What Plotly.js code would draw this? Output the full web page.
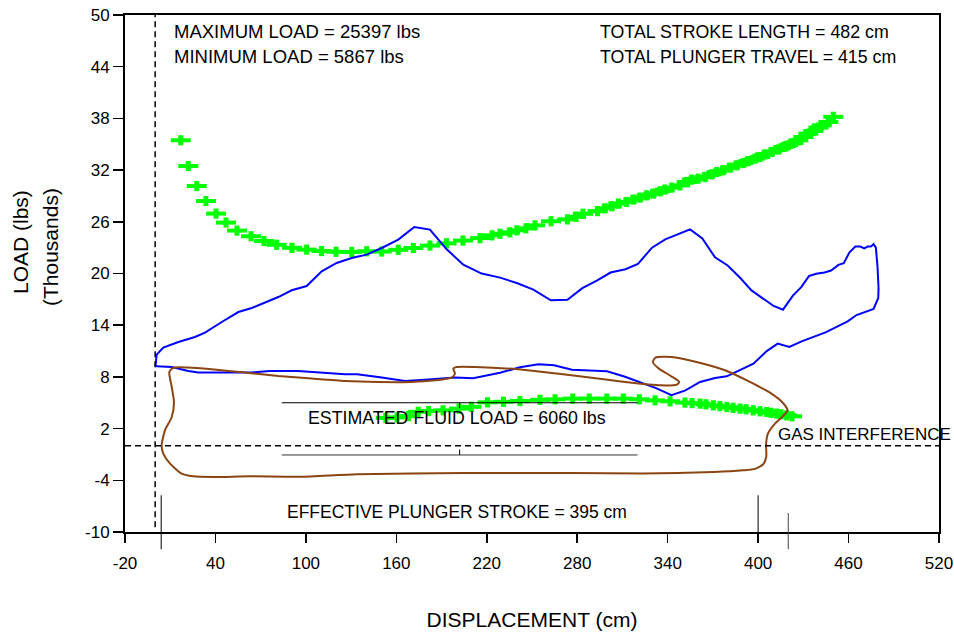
<!DOCTYPE html>
<html>
<head>
<meta charset="utf-8">
<script src="https://cdn.plot.ly/plotly-3.0.1.min.js"></script>
<style>html,body{margin:0;padding:0;background:#fff;}</style>
</head>
<body>
<div id="chart" style="width:954px;height:634px;"></div>
<script>
// ---------------- DATA ----------------
const xRange = [-20, 520];
const yRange = [-10, 50];
const xTicks = [-20, 40, 100, 160, 220, 280, 340, 400, 460, 520];
const yTicks = [-10, -4, 2, 8, 14, 20, 26, 32, 38, 44, 50];

// Surface card (blue)
const surfaceX = [0.2,1.0,5.4,15.4,26.4,33.1,44.2,55.2,64.1,81.7,
  90.6,100.5,110.5,120.4,130.4,140.3,150.3,161.3,171.9,182.3,
  193.4,204.4,216.6,228.8,239.9,250.9,262.5,273.5,283.4,293.3,
  302.1,312.0,320.3,329.6,338.4,346.1,354.9,363.0,371.4,379.8,
  387.9,395.6,402.2,410.3,416.5,423.2,428.6,433.7,438.5,444.0,
  448.4,453.3,456.8,460.5,464.5,467.8,470.4,472.6,474.8,476.6,
  478.1,479.2,479.9,479.7,476.6,472.6,465.3,459.4,445.1,428.9,
  420.7,413.0,405.7,396.9,387.7,379.2,371.4,361.5,351.8,342.5,
  332.3,321.7,311.7,299.8,288.5,276.5,264.6,254.3,242.0,228.8,
  210.9,198.9,181.3,165.8,149.2,133.9,126.0,110.0,94.8,76.2,
  63.6,46.3,28.6,22.0,11.0,1.0,0.2];
const surfaceY = [9.23,10.59,11.40,12.05,12.63,13.14,14.37,15.53,16.0,17.27,
  18.05,18.55,20.25,21.22,21.8,22.19,22.96,23.93,25.4,25.1,
  22.81,21.03,19.99,19.52,18.9,18.13,16.89,16.96,18.3,19.19,
  20.11,20.5,21.11,23.0,23.97,24.47,25.12,24.08,21.88,20.93,
  19.54,18.04,17.27,16.23,15.8,17.46,18.42,19.69,19.96,20.12,
  20.35,21.0,21.19,22.42,23.12,23.12,22.92,23.12,23.12,23.42,
  23.0,20.81,18.3,17.16,15.88,15.61,15.18,14.45,13.19,12.13,
  11.47,11.86,11.0,9.54,8.77,8.07,7.87,7.41,6.44,5.87,
  6.7,7.41,8.01,8.65,8.77,8.82,9.35,9.46,9.11,8.48,
  7.84,7.92,7.7,7.52,7.95,8.3,8.3,8.45,8.68,8.68,
  8.5,8.5,8.5,8.68,9.15,9.23,9.23];

// Downhole / pump card (brown)
const pumpX = [12.0,22.0,37.5,59.6,81.7,103.9,126.0,148.0,170.2,185.7,
  196.7,198.9,197.8,200.0,212.2,240.6,276.1,311.7,335.4,346.1,
  347.7,342.5,334.2,330.2,331.9,342.5,359.1,378.0,394.6,408.8,
  415.9,419.5,415.9,411.2,406.5,405.3,405.4,403.4,397.9,389.9,
  370.9,323.6,276.1,205.1,133.9,96.1,62.9,38.6,25.3,17.6,
  9.9,5.4,4.3,6.5,11.0,12.5,11.0,9.4,12.0];
const pumpY = [9.06,9.08,8.88,8.5,8.1,7.8,7.52,7.41,7.41,7.6,
  7.92,8.38,8.96,9.15,9.15,8.88,8.19,7.41,7.02,7.11,
  7.43,8.07,8.96,9.73,10.24,10.31,9.73,8.77,7.41,6.06,
  5.09,4.12,3.35,2.58,1.42,0.26,-1.27,-2.14,-2.67,-2.84,
  -3.04,-3.22,-3.15,-3.15,-3.3,-3.59,-3.54,-3.62,-3.54,-3.22,
  -2.06,-0.9,0.06,1.8,3.35,5.09,6.83,8.57,9.06];

// Upper load limit (green markers)
const upperLimitX = [17.0,22.0,27.6,33.7,40.4,47.0,54.3,63.6,72.2,80.6,
  90.8,100.5,110.4,120.0,130.4,140.3,150.3,161.3,171.3,182.3,
  193.3,204.2,215.5,223.5,228.8,235.4,239.9,246.0,252.0,262.6,
  273.5,279.2,283.8,293.5,298.4,302.9,307.3,312.8,317.2,321.7,
  326.1,330.5,334.9,338.2,342.7,348.2,352.6,356.0,360.3,364.8,
  369.2,372.5,376.9,381.4,385.8,390.2,393.5,397.9,401.3,404.6,
  409.0,413.4,416.7,420.0,423.4,426.7,430.0,433.3,436.6,440.0,
  442.2,446.6,449.9];
const upperLimitY = [35.46,32.47,30.15,28.41,26.95,25.91,24.98,24.32,23.77,23.33,
  22.98,22.77,22.61,22.52,22.49,22.58,22.55,22.75,22.96,23.24,
  23.5,23.82,24.11,24.43,24.61,24.78,25.01,25.24,25.59,26.06,
  26.28,26.58,26.93,27.24,27.57,27.8,28.11,28.3,28.58,28.81,
  29.07,29.27,29.54,29.74,29.97,30.23,30.62,30.9,31.01,31.2,
  31.51,31.78,31.98,32.29,32.56,32.82,33.05,33.33,33.52,33.83,
  34.1,34.38,34.68,34.88,35.14,35.46,35.84,36.23,36.54,36.93,
  37.2,37.58,38.18];

// Lower load limit (green markers)
const lowerLimitX = [153.0,160.5,168.0,174.5,181.4,191.0,201.6,209.8,220.5,231.1,242.0,
  255.3,265.3,277.0,288.0,299.6,310.6,321.2,331.6,341.6,351.5,
  356.2,361.5,365.4,370.3,374.7,379.2,383.4,388.0,392.0,396.8,
  401.3,405.7,408.6,412.3,415.2,419.0,422.5];
const lowerLimitY = [3.25,3.3,3.45,3.95,4.04,4.12,4.32,4.53,5.05,5.11,5.2,
  5.34,5.4,5.48,5.48,5.48,5.48,5.4,5.28,5.17,5.02,
  4.96,4.9,4.82,4.7,4.61,4.51,4.41,4.32,4.24,4.12,
  4.01,3.93,3.83,3.74,3.66,3.54,3.43];

// Reference lines
const zeroLoad = 0;                 // horizontal dashed (gas interference)
const zeroDisplacement = 0;         // vertical dashed
const zeroDisplacementBottom = -9.45;
const fluidLoadTop = 5.0;
const fluidLoadBottom = -1.06;
const fluidLoadSpan = [84, 320];
const fluidLoadMid = 202;
const fluidMarkLen = 0.62;
const strokeStart = 4, strokeEnd = 400, plungerEnd = 420;
const strokeTop = -5.74, plungerTop = -7.8, strokeBottom = -12, axisBottom = -10;

// ---------------- LAYOUT HELPERS ----------------
const W = 954, H = 634, ML = 125, MR = 15, MT = 15, MB = 102;
const PW = W - ML - MR, PH = H - MT - MB;
const toPaperY = v => (v - yRange[0]) / (yRange[1] - yRange[0]);
const pxX = px => (px - ML) / PW;
const pxY = py => (H - MB - py) / PH;

const FONT = 'Liberation Sans, Arial, Helvetica, sans-serif';
const GREEN = '#00ff00';

function greenTraces(xs, ys) {
  return [
    {x: xs, y: ys, type: 'scatter', mode: 'markers', hoverinfo: 'skip',
     marker: {symbol: 'line-ew', size: 14.3, color: GREEN, line: {color: GREEN, width: 4}}},
    {x: xs, y: ys, type: 'scatter', mode: 'markers', hoverinfo: 'skip',
     marker: {symbol: 'line-ns', size: 7.3, color: GREEN, line: {color: GREEN, width: 5}}}
  ];
}

const traces = [
  ...greenTraces(upperLimitX, upperLimitY),
  ...greenTraces(lowerLimitX, lowerLimitY),
  {x: surfaceX, y: surfaceY, type: 'scatter', mode: 'lines',
   line: {color: '#0000ff', width: 2}},
  {x: pumpX, y: pumpY, type: 'scatter', mode: 'lines',
   line: {color: '#8b4513', width: 2, shape: 'spline', smoothing: 0.6}}
];

const dashStyle = {color: '#000', width: 1.5, dash: '6px,4px'};
const thin = {color: '#000', width: 1};
const shapes = [
  {type: 'line', xref: 'x', yref: 'y', x0: zeroDisplacement, x1: zeroDisplacement,
   y0: zeroDisplacementBottom, y1: yRange[1], line: dashStyle},
  {type: 'line', xref: 'x', yref: 'y', x0: xRange[0], x1: xRange[1],
   y0: zeroLoad, y1: zeroLoad, line: dashStyle},
  {type: 'line', xref: 'x', yref: 'y', x0: fluidLoadSpan[0], x1: fluidLoadSpan[1],
   y0: fluidLoadTop, y1: fluidLoadTop, line: thin},
  {type: 'line', xref: 'x', yref: 'y', x0: fluidLoadSpan[0], x1: fluidLoadSpan[1],
   y0: fluidLoadBottom, y1: fluidLoadBottom, line: {color: '#333', width: 1}},
  {type: 'line', xref: 'x', yref: 'y', x0: fluidLoadMid, x1: fluidLoadMid,
   y0: fluidLoadTop, y1: fluidLoadTop - fluidMarkLen, line: thin},
  {type: 'line', xref: 'x', yref: 'y', x0: fluidLoadMid, x1: fluidLoadMid,
   y0: fluidLoadBottom, y1: fluidLoadBottom + fluidMarkLen, line: thin},
  {type: 'line', xref: 'x', yref: 'paper', x0: strokeStart, x1: strokeStart,
   y0: toPaperY(strokeTop), y1: toPaperY(strokeBottom), line: thin},
  {type: 'line', xref: 'x', yref: 'paper', x0: strokeEnd, x1: strokeEnd,
   y0: toPaperY(strokeTop), y1: toPaperY(axisBottom), line: thin},
  {type: 'line', xref: 'x', yref: 'paper', x0: plungerEnd, x1: plungerEnd,
   y0: toPaperY(plungerTop), y1: toPaperY(strokeBottom), line: {color: '#444', width: 1}}
];

function note(text, px, py, anchor, size, extra) {
  return Object.assign({text: text, xref: 'paper', yref: 'paper', x: pxX(px), y: pxY(py),
    xanchor: anchor, yanchor: 'middle', showarrow: false, borderpad: 0,
    font: {family: FONT, size: size, color: '#000'}}, extra || {});
}

const annotations = [
  note('MAXIMUM LOAD = 25397 lbs', 173, 31.7, 'left', 18.5),
  note('MINIMUM LOAD = 5867 lbs', 173, 56.7, 'left', 18.5),
  note('TOTAL STROKE LENGTH = 482 cm', 599, 31.7, 'left', 17.8),
  note('TOTAL PLUNGER TRAVEL = 415 cm', 599, 56.7, 'left', 17.8),
  note('ESTIMATED FLUID LOAD = 6060 lbs', 457, 418.3, 'center', 17.8),
  note('GAS INTERFERENCE', 777, 434, 'left', 17),
  note('EFFECTIVE PLUNGER STROKE = 395 cm', 286, 512, 'left', 17.5),
  note('LOAD (lbs)', 20, 242, 'center', 21, {textangle: -90}),
  note('(Thousands)', 50, 247, 'center', 21, {textangle: -90})
];

const axisCommon = {
  showgrid: false, zeroline: false, showline: true, linecolor: '#000', linewidth: 2,
  mirror: true, ticks: 'outside', tickcolor: '#000', tickwidth: 1.5,
  tickfont: {family: FONT, size: 17, color: '#000'}
};

const layout = {
  width: W, height: H,
  margin: {l: ML, r: MR, t: MT, b: MB},
  paper_bgcolor: '#fff', plot_bgcolor: '#fff',
  showlegend: false,
  font: {family: FONT, color: '#000'},
  xaxis: Object.assign({}, axisCommon, {
    range: xRange, tickmode: 'array', tickvals: xTicks, ticktext: xTicks.map(String),
    ticklen: 9, ticklabelstandoff: 6,
    title: {text: 'DISPLACEMENT (cm)', font: {family: FONT, size: 21, color: '#000'}, standoff: 40}
  }),
  yaxis: Object.assign({}, axisCommon, {
    range: yRange, tickmode: 'array', tickvals: yTicks, ticktext: yTicks.map(String),
    ticklen: 10
  }),
  shapes: shapes,
  annotations: annotations
};

Plotly.newPlot('chart', traces, layout, {displayModeBar: false, staticPlot: true});
</script>
</body>
</html>
